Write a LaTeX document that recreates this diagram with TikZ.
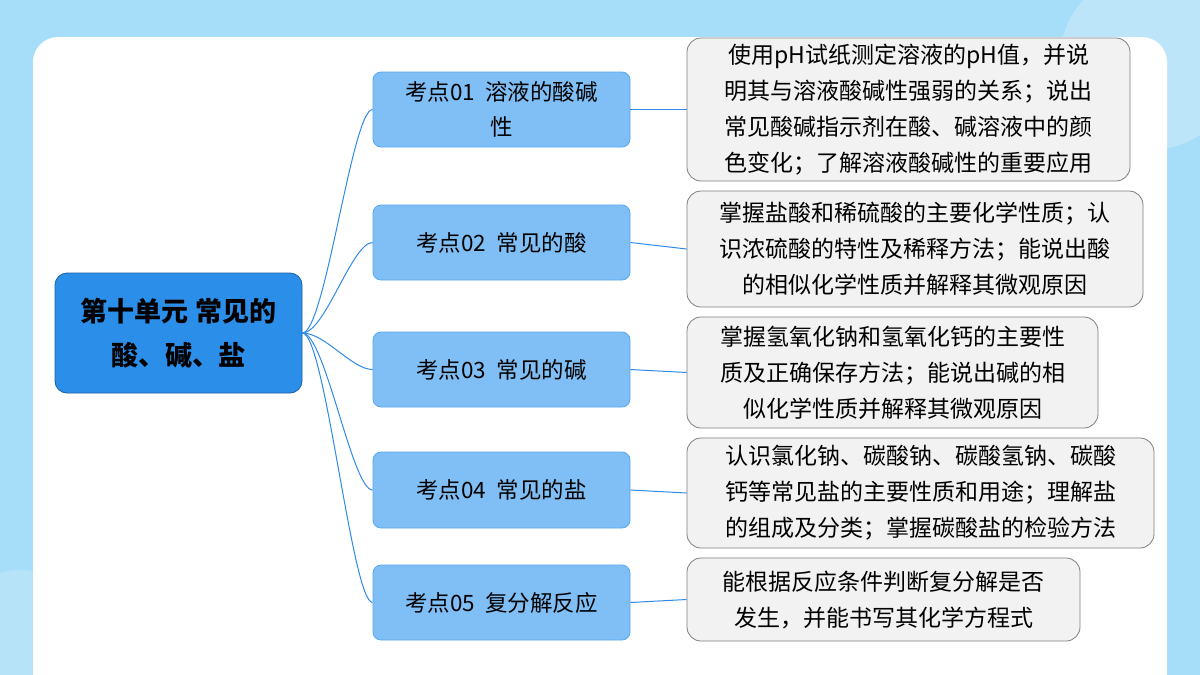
\documentclass[tikz,border=0pt]{standalone}
\usepackage{fontspec}
\setmainfont{Noto Sans CJK SC}
\begin{document}
\begin{tikzpicture}[x=1pt,y=-1pt,
  topic/.style={draw=topicborder,fill=topicfill,rounded corners=8pt,line width=0.8pt,minimum width=257pt,align=center,font=\fontsize{22.5}{35}\selectfont},
  desc/.style={draw=descborder,fill=descfill,rounded corners=14pt,line width=0.8pt,align=center,font=\fontsize{23}{36}\selectfont,inner sep=0pt},
  link/.style={draw=linkblue,line width=1pt}]
\definecolor{bgblue}{HTML}{A6DDF8}
\definecolor{topicfill}{HTML}{80BFF5}
\definecolor{topicborder}{HTML}{5AA8EE}
\definecolor{descfill}{HTML}{F2F2F2}
\definecolor{descborder}{HTML}{7F7F7F}
\definecolor{linkblue}{HTML}{2E8BEA}
\definecolor{rootfill}{HTML}{2B8FEA}
\definecolor{rootborder}{HTML}{1A5FA8}
\useasboundingbox (0,0) rectangle (1200,675);
\fill[bgblue] (0,0) rectangle (1200,675);
\fill[white,opacity=0.25] (1150,60) circle (90);
\fill[white,opacity=0.2] (20,640) circle (70);
\fill[white,rounded corners=25pt] (33,37) rectangle (1167,700);
\node[draw=rootborder,fill=rootfill,rounded corners=12pt,line width=0.8pt,minimum width=247pt,minimum height=120pt,align=center,font=\fontsize{27}{44}\selectfont\bfseries] (root) at (178.5,333) {第十单元 常见的\\酸、碱、盐};
\node[topic,minimum height=75pt] (t1) at (501.5,109.5) {考点01\ \ 溶液的酸碱\\性};
\node[topic,minimum height=75pt] (t2) at (501.5,242.5) {考点02\ \ 常见的酸};
\node[topic,minimum height=75pt] (t3) at (501.5,369.5) {考点03\ \ 常见的碱};
\node[topic,minimum height=76pt] (t4) at (501.5,490) {考点04\ \ 常见的盐};
\node[topic,minimum height=75pt] (t5) at (501.5,602.5) {考点05\ \ 复分解反应};
\node[desc,minimum width=443pt,minimum height=143pt] (d1) at (908.5,109.5) {使用pH试纸测定溶液的pH值，并说\\明其与溶液酸碱性强弱的关系；说出\\常见酸碱指示剂在酸、碱溶液中的颜\\色变化；了解溶液酸碱性的重要应用};
\node[desc,minimum width=456pt,minimum height=116pt] (d2) at (915,249) {掌握盐酸和稀硫酸的主要化学性质；认\\识浓硫酸的特性及稀释方法；能说出酸\\的相似化学性质并解释其微观原因};
\node[desc,minimum width=411pt,minimum height=111pt] (d3) at (892.5,372.5) {掌握氢氧化钠和氢氧化钙的主要性\\质及正确保存方法；能说出碱的相\\似化学性质并解释其微观原因};
\node[desc,minimum width=467pt,minimum height=110pt] (d4) at (920.5,493) {认识氯化钠、碳酸钠、碳酸氢钠、碳酸\\钙等常见盐的主要性质和用途；理解盐\\的组成及分类；掌握碳酸盐的检验方法};
\node[desc,minimum width=393pt,minimum height=83pt] (d5) at (883.5,599.5) {能根据反应条件判断复分解是否\\发生，并能书写其化学方程式};
\foreach \i in {1,...,5}{
  \draw[link] (root.east) .. controls (325,333) and (352,0|-t\i.west) .. (t\i.west);
  \draw[link] (t\i.east) -- (d\i.west);
}
\end{tikzpicture}
\end{document}
